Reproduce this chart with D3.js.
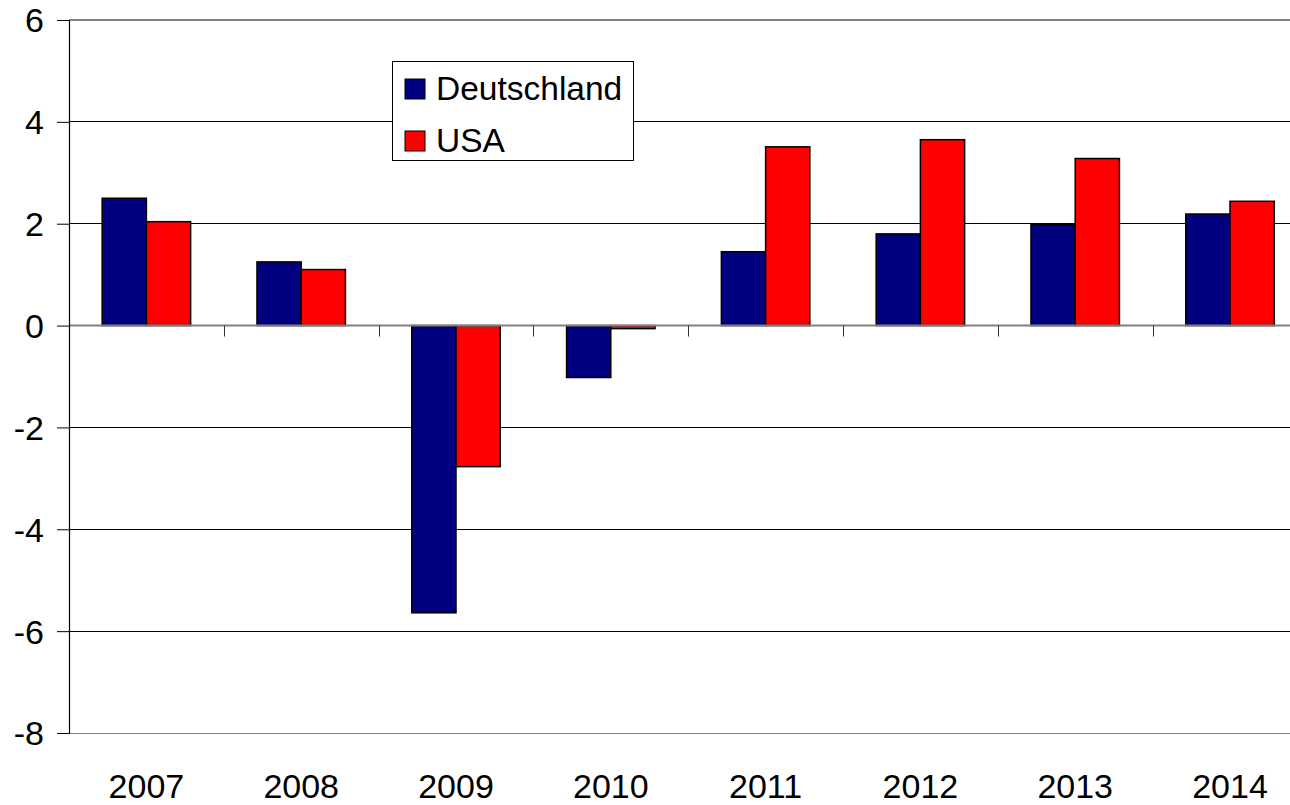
<!DOCTYPE html>
<html>
<head>
<meta charset="utf-8">
<script src="https://cdn.jsdelivr.net/npm/d3@7"></script>
<style>
html,body{margin:0;padding:0;background:#fff;}
svg{display:block;}
text{font-family:"Liberation Sans",Arial,sans-serif;fill:#000;}
</style>
</head>
<body>
<script>
const years = ["2007","2008","2009","2010","2011","2012","2013","2014"];
const seriesNames = ["Deutschland","USA"];
const deutschland = [2.5, 1.25, -5.64, -1.02, 1.45, 1.8, 1.98, 2.19];
const usa = [2.04, 1.1, -2.77, -0.06, 3.51, 3.65, 3.28, 2.44];
const yTicks = [6,4,2,0,-2,-4,-6,-8];
const colors = ["#000080","#ff0000"];

const W = 1290, H = 805;
const svg = d3.select("body").append("svg").attr("width",W).attr("height",H);

const x0 = 69, catW = 154.8;
const x = d3.scaleBand().domain(years).range([x0, x0 + catW*years.length]).paddingInner(0).paddingOuter(0);
const y = d3.scaleLinear().domain([-8,6]).range([733,20]);
const bw = catW/3.5;
const xs = d3.scaleBand().domain(seriesNames).range([0, 2*bw]);

// gridlines
const grid = svg.append("g");
yTicks.forEach(t=>{
  const isBorder = (t===6 || t===-8);
  grid.append("line")
    .attr("x1",x0).attr("x2",W)
    .attr("y1",y(t)).attr("y2",y(t))
    .attr("stroke", isBorder ? "#808080" : "#000")
    .attr("stroke-width", t===6 ? 2 : 1)
    .attr("shape-rendering","crispEdges");
});

// bars
const data = years.map((yr,i)=>({yr, vals:[deutschland[i], usa[i]]}));
const groups = svg.append("g").selectAll("g").data(data).join("g")
  .attr("transform", d=>`translate(${x(d.yr)+x.bandwidth()/2 - bw},0)`);
groups.selectAll("rect").data(d=>d.vals.map((v,j)=>({v,name:seriesNames[j],j})))
  .join("rect")
  .attr("x", d=>xs(d.name))
  .attr("width", bw)
  .attr("y", d=>y(Math.max(0,d.v)))
  .attr("height", d=>Math.abs(y(d.v)-y(0)))
  .attr("fill", d=>colors[d.j])
  .attr("stroke","#000")
  .attr("stroke-width",1.5);

// zero axis
svg.append("line").attr("x1",x0).attr("x2",W).attr("y1",y(0)).attr("y2",y(0))
  .attr("stroke","#808080").attr("stroke-width",2);
// x ticks at category boundaries
years.forEach((yr,i)=>{
  if(i===0) return;
  const xx = Math.round(x(yr))+0.5;
  svg.append("line").attr("x1",xx).attr("x2",xx).attr("y1",y(0)).attr("y2",y(0)+11)
    .attr("stroke","#333").attr("stroke-width",1);
});

// y axis
const yAxis = d3.axisLeft(y).tickValues(yTicks).tickSize(12).tickPadding(15).tickFormat(d3.format("d"));
const ya = svg.append("g").attr("transform",`translate(${x0},0)`).call(yAxis);
ya.select(".domain").attr("stroke","#000").attr("stroke-width",1.2);
ya.selectAll(".tick line").attr("stroke","#000");
ya.selectAll(".tick text").attr("font-size",34).attr("font-family","'Liberation Sans',Arial,sans-serif")
  .attr("fill","#000").attr("dy","0.35em").text(d=> d<0 ? "-"+Math.abs(d) : d);
ya.selectAll(".tick text").attr("x",-25);

// x labels
const xAxis = d3.axisBottom(x).tickSize(0).tickPadding(0);
const xa = svg.append("g").attr("transform",`translate(0,${y(-8)})`).call(xAxis);
xa.select(".domain").remove();
xa.selectAll(".tick text").attr("font-size",34).attr("font-family","'Liberation Sans',Arial,sans-serif")
  .attr("fill","#000").attr("dy",0).attr("y",65);

// legend
const lg = svg.append("g");
lg.append("rect").attr("x",392.5).attr("y",61.5).attr("width",241).attr("height",99)
  .attr("fill","#fff").attr("stroke","#000").attr("stroke-width",1);
seriesNames.forEach((n,i)=>{
  const yy = 79 + i*52;
  lg.append("rect").attr("x",405).attr("y",yy).attr("width",20).attr("height",20)
    .attr("fill",colors[i]).attr("stroke","#000").attr("stroke-width",1);
  lg.append("text").attr("x",436).attr("y",yy+21).attr("font-size",33.5).text(n);
});
</script>
</body>
</html>
